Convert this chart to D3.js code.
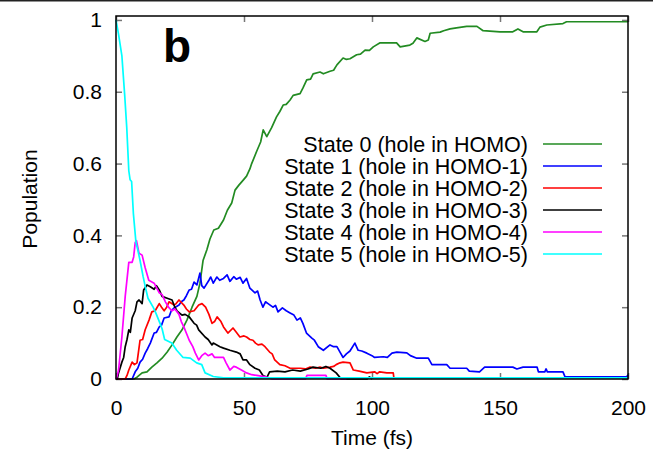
<!DOCTYPE html>
<html>
<head>
<meta charset="utf-8">
<script src="https://cdn.jsdelivr.net/npm/d3@7"></script>
<style>
  body { margin: 0; background: #fff; }
  svg text { font-family: "Liberation Sans", Arial, sans-serif; fill: #000; }
</style>
</head>
<body>
<svg id="chart" width="653" height="451" viewBox="0 0 653 451"></svg>
<script>
// population of each hole state vs time
const xTicks = [0, 50, 100, 150, 200];
const yTicks = [0, 0.2, 0.4, 0.6, 0.8, 1];

const legendLabels = [
    "State 0 (hole in HOMO)",
    "State 1 (hole in HOMO-1)",
    "State 2 (hole in HOMO-2)",
    "State 3 (hole in HOMO-3)",
    "State 4 (hole in HOMO-4)",
    "State 5 (hole in HOMO-5)"
];
const stateColors = ["#228b22", "#0000ff", "#ff0000", "#000000", "#ff00ff", "#00ffff"];

const state0 = [[0,0],[7,0],[8.2,0.005],[10.2,0.017],[12.1,0.02],[14,0.033],[16,0.045],[18,0.058],[20,0.075],[21.9,0.095],
    [23.8,0.117],[25.8,0.137],[27.7,0.164],[29.7,0.2],[31.6,0.23],[32.8,0.267],[34,0.33],[35.5,0.36],[36.7,0.39],[38.2,0.415],
    [40,0.42],[42,0.443],[43.5,0.47],[45.2,0.49],[46.5,0.526],[48,0.54],[49.7,0.554],[51,0.565],[52.3,0.585],[53,0.6],
    [55,0.635],[56.5,0.66],[57.5,0.694],[58.9,0.675],[60.8,0.7],[62.7,0.73],[64,0.745],[65.3,0.763],[66.5,0.765],[68,0.777],
    [69.2,0.79],[71.9,0.795],[73,0.81],[74.5,0.833],[76,0.835],[77,0.85],[79.7,0.855],[81,0.85],[83.6,0.857],[85,0.86],
    [86.3,0.875],[88.7,0.894],[90,0.89],[91.4,0.892],[94,0.903],[95.5,0.905],[97.3,0.916],[99,0.915],[100.5,0.925],[103,0.936],
    [109.6,0.936],[111,0.925],[114.8,0.93],[116,0.935],[117.5,0.95],[120.7,0.94],[122,0.944],[122.7,0.963],[126.6,0.966],[128,0.97],
    [130.5,0.975],[133,0.978],[137,0.982],[141,0.982],[143.4,0.97],[150,0.967],[155,0.967],[157,0.975],[159,0.967],[164.4,0.967],
    [165.6,0.98],[168.3,0.986],[174.6,0.99],[176,0.995],[200,0.995]];

const state1 = [[0,0],[6.3,0],[7.5,0.02],[8.5,0.03],[9.4,0.047],[10.4,0.055],[11.4,0.072],[12.4,0.085],[13.4,0.1],[14.9,0.128],
    [15.8,0.13],[16.9,0.145],[17.8,0.15],[18.8,0.17],[20.7,0.173],[21.6,0.19],[22.7,0.198],[24.6,0.206],[25.5,0.215],[26.5,0.22],
    [27.5,0.232],[28.6,0.248],[29.5,0.25],[30.5,0.27],[31.6,0.262],[32.8,0.295],[33.5,0.26],[34.4,0.253],[36.3,0.275],[37,0.284],
    [38,0.267],[39.4,0.284],[40.5,0.275],[42,0.28],[43.4,0.29],[44.5,0.272],[46,0.285],[47,0.278],[48.5,0.283],[49.6,0.267],
    [51,0.28],[52.3,0.253],[54.3,0.24],[55.3,0.245],[56.3,0.22],[57.4,0.2],[58.4,0.215],[59.4,0.21],[61.3,0.2],[62.3,0.205],
    [63.3,0.187],[65,0.198],[66.5,0.19],[68,0.184],[69.5,0.178],[70.7,0.164],[72,0.17],[73,0.155],[74.4,0.128],[76.5,0.114],
    [77.5,0.108],[79,0.09],[81,0.08],[83.6,0.095],[85,0.09],[86.3,0.09],[87.5,0.075],[88.7,0.06],[90,0.07],[91.4,0.078],
    [93.3,0.1],[94.6,0.08],[96,0.078],[98,0.072],[100,0.065],[101,0.06],[104.4,0.062],[106,0.06],[107.8,0.072],[109.7,0.075],
    [113.6,0.073],[115,0.065],[117.5,0.058],[122,0.058],[123.4,0.04],[129.2,0.04],[130.5,0.03],[137,0.03],[138,0.022],[142,0.02],
    [144,0.033],[155,0.033],[156.6,0.028],[159,0.033],[164.5,0.033],[165,0.02],[167.5,0.02],[168,0.028],[168.5,0.02],[174.6,0.02],
    [175.4,0.006],[199.5,0.006],[200,0.012]];

const state2 = [[0,0],[3.6,0],[4.3,0.01],[5,0.025],[6.3,0.047],[7.2,0.04],[8.2,0.045],[9.4,0.108],[10.4,0.11],[11.4,0.137],
    [12.9,0.164],[14,0.187],[15.3,0.19],[16.9,0.21],[17.8,0.2],[18.8,0.19],[19.8,0.2],[20.7,0.215],[22.7,0.206],[23.5,0.21],
    [24.6,0.22],[26.5,0.206],[27.5,0.195],[28.6,0.187],[30.5,0.19],[32.3,0.206],[33.6,0.21],[35,0.2],[36.3,0.18],[37.5,0.155],
    [38.5,0.16],[39.5,0.173],[41,0.16],[42,0.145],[43.7,0.128],[45.7,0.142],[47,0.13],[48.4,0.117],[50,0.12],[51,0.117],
    [52.3,0.11],[53.5,0.108],[54.5,0.1],[55.5,0.095],[57,0.097],[58.2,0.09],[60,0.075],[61,0.07],[62,0.053],[64,0.04],
    [66,0.037],[68,0.03],[72,0.03],[74,0.028],[75.8,0.033],[78,0.03],[79.7,0.033],[81,0.03],[83.6,0.033],[85,0.035],
    [86,0.04],[87.5,0.045],[88.7,0.047],[91.4,0.045],[92.7,0.025],[95,0.022],[98,0.017],[101,0.02],[102,0.015],[103,0.02],
    [105.8,0.017],[108.3,0.017],[108.6,0]];

const state3 = [[0,0],[0.5,0],[1,0.017],[2.3,0.047],[3,0.06],[3.6,0.09],[4.3,0.11],[5,0.137],[5.6,0.13],[6.3,0.17],
    [7.5,0.19],[8.2,0.215],[9,0.22],[10.2,0.21],[10.8,0.248],[12.1,0.262],[13.4,0.257],[14.9,0.25],[15.8,0.26],[16.9,0.248],
    [18,0.23],[20,0.225],[21.9,0.22],[23,0.2],[23.8,0.19],[25.8,0.178],[27,0.18],[28.6,0.173],[30.5,0.155],[31.5,0.15],
    [32.3,0.137],[34.8,0.117],[36,0.11],[37.5,0.095],[38,0.1],[40.6,0.09],[42,0.086],[44.5,0.08],[47,0.075],[48.5,0.07],
    [49.6,0.053],[51,0.053],[52.3,0.04],[54.3,0.03],[56,0.025],[57.4,0.01],[59,0.005],[60,0.02],[63,0.022],[66,0.02],
    [69,0.025],[72,0.022],[75,0.028],[77,0.033],[80,0.03],[82,0.035],[83.6,0.03],[86,0.017],[88,0],[98,0],
    [99,0.006],[100,0]];

const state4 = [[0,0],[0.5,0.01],[1,0.025],[2.3,0.117],[3.6,0.23],[5,0.325],[6.3,0.325],[6.9,0.34],[7.5,0.38],[8,0.385],
    [9,0.35],[10.2,0.345],[11.4,0.31],[12.8,0.275],[14.9,0.267],[16.9,0.24],[18,0.235],[19.3,0.215],[20.5,0.2],[21.9,0.19],
    [23,0.195],[24.6,0.18],[25.5,0.16],[26.5,0.145],[28.6,0.108],[30,0.09],[31,0.072],[32.3,0.053],[33.5,0.065],[34.8,0.072],
    [36,0.065],[37.5,0.07],[38.5,0.06],[42,0.06],[43,0.045],[44.5,0.025],[46,0.035],[47,0.033],[49,0.025],[51,0.017],
    [53,0.012],[55,0.01],[59,0.005],[61,0],[74,0],[74.6,0.01],[82,0.01],[82.5,0],[90,0]];

const state5 = [[0,1],[1,0.96],[2.3,0.9],[3.4,0.79],[4.2,0.7],[5,0.58],[5.5,0.555],[6.1,0.55],[6.8,0.46],[7.8,0.38],
    [8.5,0.36],[9.4,0.33],[10.6,0.285],[11.5,0.255],[12.5,0.225],[14.5,0.2],[15.5,0.185],[17.2,0.155],[18,0.14],[19,0.11],
    [21.8,0.1],[23.7,0.08],[26.2,0.06],[29,0.058],[31.5,0.045],[33.5,0.04],[34.8,0.017],[38,0.007],[42,0.003],[200,0.003]];

(function () {
    const states = [state0, state1, state2, state3, state4, state5];

    const svg = d3.select("#chart");
    const plot = {left: 116, right: 628, top: 16, bottom: 379};

    const x = d3.scaleLinear().domain([0, 200]).range([plot.left, plot.right]);
    const y = d3.scaleLinear().domain([0, 1.011]).range([plot.bottom, plot.top]);

    // thin rule along the top edge of the figure
    svg.append("rect").attr("x", 0).attr("y", 0).attr("width", 653).attr("height", 1.5).attr("fill", "#222");

    // inward gnuplot style ticks on all four sides
    const tickLen = 6;
    const tickColor = "#777";
    svg.append("g").attr("class", "axis axis--x")
        .attr("transform", `translate(0, ${plot.bottom})`)
        .call(d3.axisBottom(x).tickValues(xTicks).tickSizeInner(-tickLen).tickSizeOuter(0).tickPadding(21).tickFormat(d3.format("d")))
        .call(g => g.select(".domain").remove());
    svg.append("g")
        .attr("transform", `translate(0, ${plot.top})`)
        .call(d3.axisTop(x).tickValues(xTicks).tickSizeInner(-tickLen).tickSizeOuter(0).tickFormat(""))
        .call(g => g.select(".domain").remove());
    svg.append("g").attr("class", "axis axis--y")
        .attr("transform", `translate(${plot.left}, 0)`)
        .call(d3.axisLeft(y).tickValues(yTicks).tickSizeInner(-tickLen).tickSizeOuter(0).tickPadding(14).tickFormat(d => d === 0 || d === 1 ? d3.format("d")(d) : d3.format(".1f")(d)))
        .call(g => g.select(".domain").remove());
    svg.append("g")
        .attr("transform", `translate(${plot.right}, 0)`)
        .call(d3.axisRight(y).tickValues(yTicks).tickSizeInner(-tickLen).tickSizeOuter(0).tickFormat(""))
        .call(g => g.select(".domain").remove());

    svg.selectAll(".tick line").attr("stroke", tickColor).attr("stroke-width", 1.5);
    svg.selectAll(".tick text").style("font-size", "21px").attr("fill", "#000");

    const line = d3.line().x(d => x(d[0])).y(d => y(d[1]));

    svg.append("g").selectAll("path")
        .data(states)
        .join("path")
        .attr("d", line)
        .attr("fill", "none")
        .attr("stroke", (d, i) => stateColors[i])
        .attr("stroke-width", 1.7)
        .attr("stroke-linejoin", "round");

    // frame
    svg.append("rect")
        .attr("x", plot.left).attr("y", plot.top)
        .attr("width", plot.right - plot.left).attr("height", plot.bottom - plot.top)
        .attr("fill", "none").attr("stroke", "#000").attr("stroke-width", 1.5);

    // legend, right aligned text with sample line
    const legend = svg.append("g").attr("class", "legend");
    legendLabels.forEach((label, i) => {
        const ly = 144 + i * 22;
        legend.append("text")
            .attr("x", 528).attr("y", ly + 7.5)
            .attr("text-anchor", "end")
            .style("font-size", "21.5px")
            .text(label);
        legend.append("line")
            .attr("x1", 543).attr("x2", 602)
            .attr("y1", ly).attr("y2", ly)
            .attr("stroke", stateColors[i]).attr("stroke-width", 1.7);
    });

    svg.append("text")
        .attr("x", 163).attr("y", 62)
        .style("font-size", "46px").style("font-weight", "bold")
        .text("b");

    svg.append("text")
        .attr("x", 372).attr("y", 445)
        .attr("text-anchor", "middle")
        .style("font-size", "21px")
        .text("Time (fs)");

    svg.append("text")
        .attr("transform", "translate(37, 199) rotate(-90)")
        .attr("text-anchor", "middle")
        .style("font-size", "21px")
        .text("Population");
})();
</script>
</body>
</html>
